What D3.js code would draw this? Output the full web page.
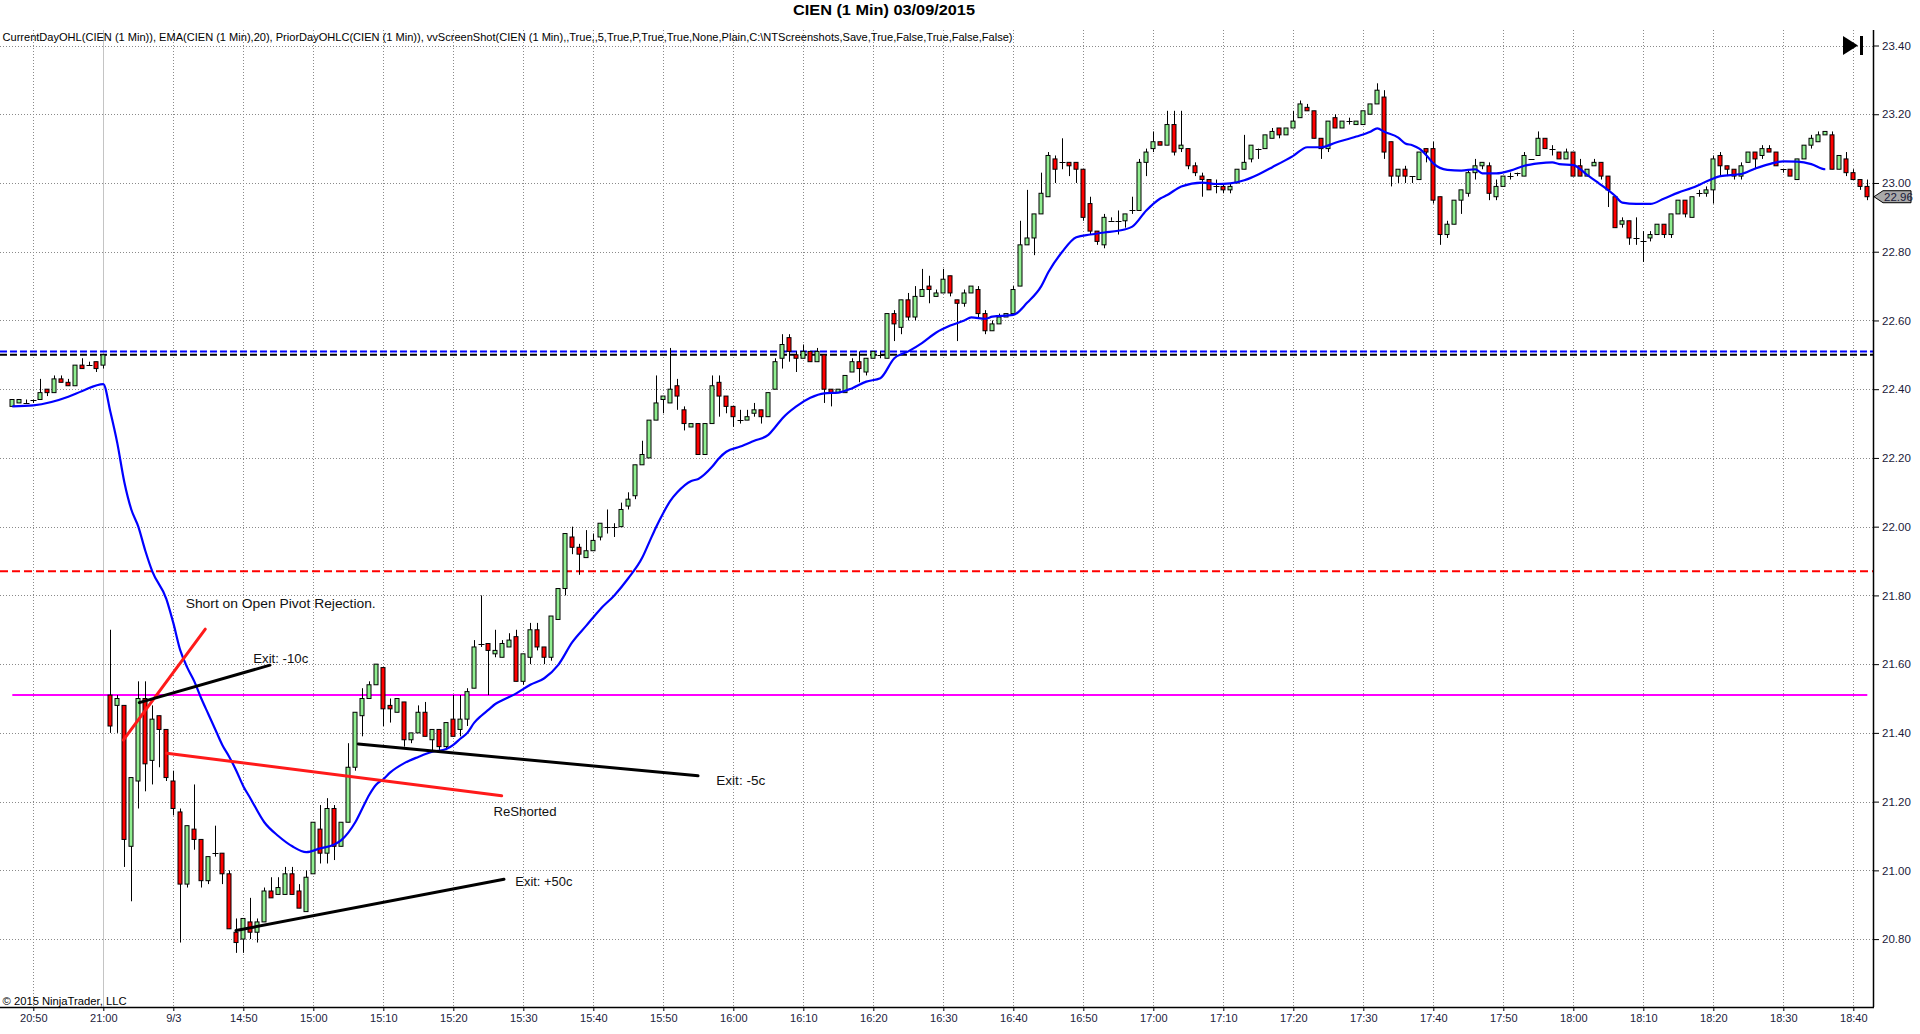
<!DOCTYPE html>
<html><head><meta charset="utf-8">
<script src="https://cdn.jsdelivr.net/npm/d3@7/dist/d3.min.js"></script>
<style>
body{margin:0;background:#fff;}
svg{display:block;}
text{font-family:"Liberation Sans",Arial,sans-serif;}
</style>
</head><body>
<svg id="chart" width="1920" height="1034"></svg>
<script>
// ---------------- DATA ----------------
// bars: 14 prior-day bars (20:47-21:00, 9/2) then 252 bars of 9/3 (14:31-18:42)
const openP = [22.35,22.36,22.36,22.37,22.37,22.40,22.39,22.43,22.42,22.41,22.47,22.47,22.48,22.47,
21.51,21.48,21.48,21.07,21.26,21.50,21.32,21.45,21.41,21.26,
21.17,20.96,21.12,21.09,20.97,21.05,21.05,20.99,20.82,20.80,
20.85,20.82,20.85,20.94,20.93,20.93,20.99,20.94,20.88,20.99,
21.12,21.05,21.18,21.07,21.14,21.30,21.45,21.50,21.54,21.59,
21.48,21.46,21.49,21.38,21.40,21.46,21.38,21.41,21.36,21.44,
21.41,21.44,21.53,21.66,21.66,21.63,21.62,21.65,21.68,21.55,
21.62,21.70,21.65,21.62,21.73,21.82,21.97,21.94,21.91,21.93,
21.97,22.00,22.00,22.00,22.06,22.09,22.18,22.20,22.31,22.37,
22.36,22.41,22.34,22.29,22.30,22.21,22.30,22.42,22.38,22.35,
22.31,22.31,22.33,22.34,22.32,22.40,22.49,22.55,22.50,22.49,
22.51,22.48,22.50,22.40,22.39,22.39,22.45,22.48,22.45,22.49,
22.50,22.49,22.62,22.58,22.66,22.61,22.67,22.70,22.67,22.68,
22.73,22.66,22.65,22.68,22.69,22.62,22.57,22.59,22.61,22.62,
22.70,22.82,22.84,22.91,22.96,23.07,23.06,23.06,23.06,23.04,
22.94,22.86,22.82,22.89,22.89,22.89,22.92,22.92,23.06,23.10,
23.12,23.11,23.17,23.10,23.10,23.05,23.02,23.01,22.99,22.99,
22.98,23.00,23.04,23.07,23.10,23.10,23.13,23.16,23.14,23.16,
23.19,23.22,23.21,23.13,23.10,23.19,23.16,23.18,23.17,23.17,
23.20,23.23,23.25,23.12,23.02,23.04,23.02,23.01,23.10,23.10,
22.96,22.85,22.88,22.95,22.97,23.03,23.05,23.05,22.96,22.99,
23.02,23.03,23.02,23.07,23.08,23.13,23.10,23.09,23.07,23.09,
23.05,23.02,23.05,23.06,23.02,22.96,22.88,22.89,22.84,22.83,
22.84,22.85,22.88,22.85,22.91,22.95,22.90,22.97,22.97,22.98,
23.08,23.05,23.04,23.02,23.06,23.09,23.08,23.10,23.09,23.04,
23.04,23.01,23.07,23.11,23.12,23.14,23.14,23.04,23.07,23.03,
23.01,22.99];
const highP = [22.37,22.37,22.37,22.37,22.43,22.40,22.44,22.44,22.43,22.47,22.49,22.48,22.48,22.50,
21.70,21.51,21.48,21.27,21.55,21.55,21.48,21.45,21.41,21.29,
21.18,21.13,21.25,21.09,21.04,21.13,21.05,21.00,20.86,20.86,
20.92,20.86,20.95,20.98,20.98,21.01,21.01,20.96,21.00,21.14,
21.19,21.21,21.19,21.14,21.37,21.46,21.53,21.55,21.60,21.59,
21.50,21.50,21.49,21.40,21.48,21.49,21.41,21.41,21.43,21.51,
21.51,21.53,21.67,21.80,21.66,21.70,21.67,21.69,21.70,21.63,
21.72,21.72,21.65,21.74,21.82,21.98,22.00,21.95,21.99,21.98,
22.01,22.05,22.01,22.07,22.10,22.18,22.25,22.31,22.44,22.38,
22.52,22.43,22.35,22.30,22.30,22.30,22.44,22.44,22.38,22.35,
22.34,22.34,22.36,22.34,22.39,22.49,22.56,22.56,22.51,22.53,
22.51,22.52,22.50,22.40,22.40,22.44,22.49,22.51,22.49,22.51,
22.51,22.62,22.63,22.66,22.68,22.70,22.75,22.73,22.69,22.75,
22.73,22.66,22.69,22.70,22.70,22.63,22.60,22.62,22.62,22.70,
22.89,22.98,22.91,23.03,23.09,23.08,23.13,23.06,23.06,23.04,
22.96,22.86,22.91,22.90,22.92,22.91,22.96,23.07,23.10,23.15,
23.12,23.21,23.21,23.21,23.10,23.06,23.03,23.01,23.01,23.00,
23.00,23.04,23.14,23.11,23.10,23.14,23.16,23.16,23.16,23.21,
23.24,23.23,23.21,23.13,23.18,23.20,23.18,23.19,23.18,23.21,
23.23,23.29,23.27,23.12,23.04,23.05,23.02,23.09,23.10,23.12,
22.96,22.89,22.95,22.98,23.04,23.07,23.06,23.06,23.01,23.02,
23.03,23.03,23.09,23.07,23.15,23.13,23.11,23.09,23.10,23.09,
23.07,23.04,23.07,23.06,23.02,22.96,22.90,22.89,22.90,22.86,
22.86,22.88,22.88,22.91,22.95,22.95,22.96,22.98,22.99,23.08,
23.09,23.05,23.04,23.06,23.09,23.09,23.11,23.11,23.09,23.04,
23.04,23.07,23.11,23.14,23.15,23.15,23.15,23.08,23.09,23.04,
23.01,23.01];
const lowP = [22.35,22.36,22.36,22.36,22.37,22.38,22.39,22.42,22.41,22.41,22.46,22.47,22.45,22.46,
21.40,21.40,21.01,20.91,21.18,21.23,21.25,21.30,21.26,21.16,
20.79,20.95,21.06,20.95,20.96,21.04,20.96,20.83,20.76,20.76,
20.80,20.79,20.85,20.92,20.93,20.93,20.93,20.89,20.88,20.99,
21.02,21.02,21.03,21.07,21.14,21.29,21.39,21.50,21.54,21.42,
21.43,21.46,21.36,21.37,21.40,21.39,21.35,21.35,21.35,21.39,
21.39,21.42,21.53,21.65,21.51,21.62,21.62,21.65,21.55,21.54,
21.60,21.64,21.60,21.61,21.73,21.80,21.92,21.86,21.91,21.93,
21.96,21.98,21.97,22.00,22.05,22.08,22.18,22.20,22.31,22.33,
22.36,22.34,22.28,22.29,22.21,22.21,22.30,22.32,22.33,22.29,
22.30,22.31,22.32,22.30,22.32,22.40,22.46,22.48,22.45,22.49,
22.48,22.48,22.36,22.35,22.39,22.39,22.45,22.42,22.44,22.49,
22.49,22.49,22.54,22.56,22.60,22.60,22.67,22.65,22.67,22.68,
22.67,22.54,22.64,22.68,22.61,22.56,22.57,22.59,22.61,22.62,
22.70,22.82,22.79,22.91,22.96,23.00,23.04,23.02,23.00,22.89,
22.85,22.82,22.81,22.89,22.85,22.87,22.91,22.92,23.02,23.09,
23.11,23.11,23.08,23.09,23.04,23.02,22.96,22.98,22.97,22.97,
22.97,23.00,23.04,23.06,23.07,23.10,23.13,23.13,23.14,23.16,
23.19,23.21,23.13,23.07,23.09,23.16,23.16,23.17,23.17,23.17,
23.20,23.23,23.07,22.99,23.00,23.00,23.00,23.01,23.06,22.94,
22.82,22.84,22.88,22.91,22.96,23.01,23.04,22.95,22.95,22.99,
23.01,23.02,23.02,23.07,23.08,23.10,23.08,23.07,23.07,23.02,
23.02,23.02,23.05,23.01,22.93,22.87,22.87,22.82,22.82,22.77,
22.83,22.85,22.84,22.84,22.91,22.90,22.90,22.96,22.96,22.94,
23.02,23.02,23.01,23.01,23.06,23.04,23.07,23.09,23.05,23.03,
23.02,23.01,23.07,23.10,23.12,23.14,23.04,23.04,23.02,23.01,
22.98,22.95];
const closeP = [22.37,22.37,22.36,22.37,22.39,22.39,22.43,22.42,22.41,22.47,22.46,22.47,22.46,22.50,
21.42,21.50,21.09,21.27,21.50,21.31,21.44,21.41,21.27,21.18,
20.96,21.13,21.09,20.97,21.04,21.05,20.99,20.83,20.79,20.86,
20.82,20.85,20.94,20.92,20.95,20.99,20.93,20.89,20.98,21.14,
21.05,21.18,21.07,21.14,21.30,21.46,21.50,21.54,21.60,21.47,
21.47,21.50,21.38,21.40,21.46,21.39,21.41,21.36,21.43,21.39,
21.44,21.52,21.65,21.66,21.64,21.64,21.66,21.67,21.55,21.63,
21.70,21.65,21.62,21.74,21.82,21.98,21.94,21.92,21.93,21.96,
22.01,22.00,22.00,22.05,22.08,22.18,22.21,22.31,22.36,22.38,
22.40,22.38,22.30,22.30,22.21,22.30,22.41,22.38,22.35,22.32,
22.31,22.32,22.34,22.32,22.39,22.48,22.53,22.51,22.49,22.51,
22.48,22.51,22.40,22.39,22.40,22.44,22.48,22.46,22.49,22.51,
22.50,22.62,22.59,22.66,22.61,22.67,22.69,22.69,22.68,22.72,
22.68,22.65,22.68,22.70,22.62,22.57,22.59,22.61,22.62,22.69,
22.82,22.84,22.91,22.97,23.08,23.04,23.06,23.05,23.04,22.90,
22.86,22.83,22.90,22.89,22.89,22.91,22.92,23.06,23.09,23.12,
23.11,23.17,23.09,23.11,23.05,23.03,23.01,22.98,22.99,22.98,
22.99,23.04,23.06,23.11,23.10,23.14,23.15,23.14,23.16,23.18,
23.23,23.21,23.13,23.10,23.18,23.16,23.18,23.18,23.18,23.21,
23.23,23.27,23.09,23.02,23.04,23.02,23.02,23.09,23.09,22.95,
22.85,22.88,22.95,22.98,23.03,23.05,23.06,22.97,22.99,23.02,
23.02,23.03,23.08,23.07,23.13,23.10,23.10,23.07,23.09,23.02,
23.02,23.04,23.06,23.02,22.98,22.87,22.89,22.84,22.84,22.83,
22.85,22.88,22.85,22.91,22.95,22.91,22.96,22.97,22.98,23.07,
23.05,23.04,23.02,23.05,23.09,23.07,23.10,23.09,23.05,23.04,
23.02,23.07,23.11,23.13,23.14,23.15,23.04,23.08,23.03,23.01,
22.99,22.96];

// EMA(20) at bar indices
const emaBar = [0,3,8,10,13,
14,15,16,17,18,19,20,22,23,24,25,26,27,28,29,30,31,32,33,34,36,38,40,42,44,46,47,48,49,50,
51,52,53,54,56,58,60,62,63,64,65,66,67,68,69,70,72,74,76,78,80,82,84,86,88,90,91,92,93,94,95,97,98,
100,101,102,104,106,108,109,110,112,114,116,118,120,122,124,126,128,130,132,134,136,137,139,140,143,
145,147,148,150,152,154,156,158,160,162,164,165,167,170,172,174,176,178,180,183,185,187,189,192,194,
195,196,198,199,200,201,202,203,205,207,209,210,212,214,216,218,220,221,223,225,227,229,230,232,234,
236,238,240,242,244,247,249,251,253,255,257,259,261,263,265];
const emaVal = [22.350,22.353,22.378,22.395,22.415,
22.335,22.243,22.130,22.050,22.000,21.930,21.870,21.790,21.720,21.640,21.590,21.550,21.500,21.455,21.410,21.365,21.330,21.290,21.245,21.210,21.140,21.100,21.070,21.053,21.064,21.075,21.088,21.110,21.140,21.180,
21.220,21.250,21.265,21.285,21.312,21.330,21.345,21.353,21.365,21.383,21.400,21.430,21.450,21.467,21.484,21.495,21.515,21.540,21.559,21.598,21.664,21.712,21.760,21.800,21.850,21.910,21.955,22.000,22.040,22.075,22.100,22.133,22.139,
22.175,22.200,22.218,22.233,22.250,22.267,22.290,22.315,22.350,22.375,22.388,22.390,22.403,22.422,22.432,22.490,22.510,22.535,22.565,22.585,22.600,22.609,22.605,22.611,22.616,22.652,22.700,22.740,22.800,22.842,22.850,22.856,22.861,
22.873,22.920,22.955,22.965,22.990,23.001,22.997,22.999,23.008,23.025,23.046,23.079,23.104,23.104,23.117,23.135,23.149,23.159,23.149,23.132,23.115,23.110,23.100,23.081,23.057,23.038,
23.036,23.040,23.028,23.028,23.036,23.050,23.057,23.060,23.055,23.052,23.023,22.994,22.962,22.943,22.939,22.939,22.955,22.972,22.986,23.004,
23.020,23.026,23.042,23.055,23.063,23.062,23.055,23.040];

// horizontal reference levels
const levelPriorHigh = 22.51;   // blue dashed
const levelPriorClose = 22.50;  // black dashed
const levelRed = 21.87;         // red dashed
const levelOpen = 21.51;        // magenta solid
const lastPrice = 22.96;

// time axis labels (every 10 bars)
const tickLabels = ["20:50","21:00","9/3","14:50","15:00","15:10","15:20","15:30","15:40","15:50",
"16:00","16:10","16:20","16:30","16:40","16:50","17:00","17:10","17:20","17:30","17:40","17:50",
"18:00","18:10","18:20","18:30","18:40"];
const tickBars = [3,13,23,33,43,53,63,73,83,93,103,113,123,133,143,153,163,173,183,193,203,213,223,233,243,253,263];
const sessionBreakBar = 13;

const priceTicks = [20.80,21.00,21.20,21.40,21.60,21.80,22.00,22.20,22.40,22.60,22.80,23.00,23.20,23.40];

// hand-drawn annotation lines (bar index, price)
const drawLines = [
  {b1:15.86,p1:21.379,b2:27.57,p2:21.702,color:"#ff1a1a"},
  {b1:18.14,p1:21.488,b2:36.81,p2:21.597,color:"#000000"},
  {b1:22.06,p1:21.341,b2:69.91,p2:21.217,color:"#ff1a1a"},
  {b1:49.43,p1:21.368,b2:97.96,p2:21.275,color:"#000000"},
  {b1:31.96,p1:20.825,b2:70.24,p2:20.974,color:"#000000"}
];
const notes = [
  {b:24.77,p:21.764,t:"Short on Open Pivot Rejection.",w:190},
  {b:34.43,p:21.603,t:"Exit: -10c",w:55},
  {b:68.74,p:21.158,t:"ReShorted",w:63},
  {b:100.57,p:21.248,t:"Exit: -5c",w:49},
  {b:71.87,p:20.955,t:"Exit: +50c",w:57}
];

const titleText = "CIEN (1 Min)  03/09/2015";
const indicatorText = "CurrentDayOHL(CIEN (1 Min)), EMA(CIEN (1 Min),20), PriorDayOHLC(CIEN (1 Min)), vvScreenShot(CIEN (1 Min),,True,,5,True,P,True,True,None,Plain,C:\\NTScreenshots,Save,True,False,True,False,False)";
const copyrightText = "\u00A9 2015 NinjaTrader, LLC";

// ---------------- LAYOUT ----------------
const svg = d3.select("#chart");
const plotTop = 30, axisY = 1007, axisX = 1873;
const nBars = openP.length;
const x = d3.scaleLinear().domain([0, nBars - 1]).range([12.3, 1867.3]);
const y = d3.scaleLinear().domain([20.80, 23.40]).range([939.1, 45.5]);
const axisColor = "#1a1a3a";

svg.append("rect").attr("width",1920).attr("height",1034).attr("fill","#fff");

// grid
const grid = svg.append("g");
grid.selectAll("line.hg").data(priceTicks).join("line")
  .attr("x1",0).attr("x2",axisX).attr("y1",d=>Math.round(y(d))+0.5).attr("y2",d=>Math.round(y(d))+0.5)
  .attr("stroke","#8a8a8a").attr("stroke-width",1).attr("stroke-dasharray","1,2");
grid.selectAll("line.vg").data(tickBars).join("line")
  .attr("x1",d=>Math.round(x(d))+0.5).attr("x2",d=>Math.round(x(d))+0.5)
  .attr("y1",plotTop).attr("y2",axisY)
  .attr("stroke",d=>d===sessionBreakBar?"#c4c4c4":"#8a8a8a")
  .attr("stroke-width",1)
  .attr("stroke-dasharray",d=>d===sessionBreakBar?null:"1,2");

// reference levels
svg.append("line").attr("x1",0).attr("x2",axisX).attr("y1",y(levelPriorHigh)).attr("y2",y(levelPriorHigh))
  .attr("stroke","#0000ff").attr("stroke-width",2).attr("stroke-dasharray","7,3");
svg.append("line").attr("x1",0).attr("x2",axisX).attr("y1",y(levelPriorClose)).attr("y2",y(levelPriorClose))
  .attr("stroke","#000000").attr("stroke-width",2).attr("stroke-dasharray","7,3");
svg.append("line").attr("x1",0).attr("x2",axisX).attr("y1",y(levelRed)).attr("y2",y(levelRed))
  .attr("stroke","#ff0000").attr("stroke-width",2).attr("stroke-dasharray","8,4");
svg.append("line").attr("x1",x(0)).attr("x2",x(nBars-1)).attr("y1",y(levelOpen)).attr("y2",y(levelOpen))
  .attr("stroke","#ff00ff").attr("stroke-width",2);

// candles
const bars = d3.range(nBars);
const cg = svg.append("g");
cg.selectAll("line.wick").data(bars).join("line")
  .attr("x1",i=>Math.round(x(i))+0.5).attr("x2",i=>Math.round(x(i))+0.5)
  .attr("y1",i=>y(highP[i])).attr("y2",i=>y(lowP[i]))
  .attr("stroke","#000").attr("stroke-width",1);
const bw = 5;
cg.selectAll("rect.body").data(bars.filter(i=>Math.abs(openP[i]-closeP[i])>0.0001)).join("rect")
  .attr("x",i=>Math.round(x(i))-2+0.5 - 0.5)
  .attr("y",i=>y(Math.max(openP[i],closeP[i])))
  .attr("width",bw-1)
  .attr("height",i=>Math.max(1,Math.abs(y(openP[i])-y(closeP[i]))))
  .attr("fill",i=>closeP[i]>openP[i]?"#90ee90":"#ff0000")
  .attr("stroke","#000").attr("stroke-width",1);
cg.selectAll("line.doji").data(bars.filter(i=>Math.abs(openP[i]-closeP[i])<=0.0001)).join("line")
  .attr("x1",i=>Math.round(x(i))-2.5).attr("x2",i=>Math.round(x(i))+3.5)
  .attr("y1",i=>Math.round(y(openP[i]))+0.5).attr("y2",i=>Math.round(y(openP[i]))+0.5)
  .attr("stroke","#000").attr("stroke-width",1);

// EMA
const emaPts = emaBar.map((b,i)=>[b,emaVal[i]]);
svg.append("path").datum(emaPts)
  .attr("d",d3.line().x(d=>x(d[0])).y(d=>y(d[1])).curve(d3.curveMonotoneX))
  .attr("fill","none").attr("stroke","#0000ff").attr("stroke-width",2.2);

// annotations
svg.selectAll("line.ann").data(drawLines).join("line")
  .attr("x1",d=>x(d.b1)).attr("y1",d=>y(d.p1)).attr("x2",d=>x(d.b2)).attr("y2",d=>y(d.p2))
  .attr("stroke",d=>d.color).attr("stroke-width",3).attr("stroke-linecap","round");
svg.selectAll("text.note").data(notes).join("text")
  .attr("x",d=>x(d.b)).attr("y",d=>y(d.p))
  .attr("font-family","'Open Sans',sans-serif").attr("font-size",12.5)
  .attr("fill","#111")
  .attr("textLength",d=>d.w).attr("lengthAdjust","spacingAndGlyphs")
  .text(d=>d.t);

// right price axis
const yAxis = d3.axisRight(y).tickValues(priceTicks).tickFormat(d3.format(".2f")).tickSize(6).tickPadding(3);
const ya = svg.append("g").attr("transform",`translate(${axisX},0)`).call(yAxis);
ya.select(".domain").remove();
ya.selectAll("line").attr("stroke","#000");
ya.selectAll("text").attr("font-size",11.5).attr("fill",axisColor).attr("font-family","'Liberation Sans',Arial,sans-serif");
svg.append("line").attr("x1",axisX+0.5).attr("x2",axisX+0.5).attr("y1",plotTop).attr("y2",axisY)
  .attr("stroke","#000").attr("stroke-width",1.5);

// bottom time axis
const xAxis = d3.axisBottom(x).tickValues(tickBars).tickFormat((d,i)=>tickLabels[i]).tickSize(4).tickPadding(3);
const xa = svg.append("g").attr("transform",`translate(0,${axisY})`).call(xAxis);
xa.select(".domain").remove();
xa.selectAll("line").attr("stroke","#000");
xa.selectAll("text").attr("font-size",11).attr("fill",axisColor).attr("font-family","'Liberation Sans',Arial,sans-serif");
svg.append("line").attr("x1",0).attr("x2",axisX+1).attr("y1",axisY+0.5).attr("y2",axisY+0.5)
  .attr("stroke","#000").attr("stroke-width",1.5);

// last price tag
const ly = y(lastPrice);
svg.append("path")
  .attr("d",`M${axisX+1},${ly} L${axisX+10},${ly-6} L${axisX+38},${ly-6} L${axisX+38},${ly+6} L${axisX+10},${ly+6} Z`)
  .attr("fill","#a9a9a9").attr("stroke","#000").attr("stroke-width",1);
svg.append("text").attr("x",axisX+11).attr("y",ly+4.2).attr("font-size",11.5).attr("fill",axisColor)
  .text(d3.format(".2f")(lastPrice));

// play-to-end icon
svg.append("path").attr("d","M1843,36 L1858,45.5 L1843,55 Z").attr("fill","#000");
svg.append("rect").attr("x",1860).attr("y",36).attr("width",3).attr("height",19).attr("fill","#000");

// texts
svg.append("text").attr("x",884).attr("y",15).attr("text-anchor","middle")
  .attr("font-size",14).attr("font-weight","bold").attr("fill","#000")
  .attr("textLength",182).attr("lengthAdjust","spacingAndGlyphs").text(titleText);
svg.append("text").attr("x",2.5).attr("y",40.5)
  .attr("font-size",11).attr("fill","#000")
  .attr("textLength",1010).attr("lengthAdjust","spacingAndGlyphs").text(indicatorText);
svg.append("text").attr("x",2.5).attr("y",1004.5)
  .attr("font-size",11).attr("fill","#000")
  .attr("textLength",124).attr("lengthAdjust","spacingAndGlyphs").text(copyrightText);
</script>
</body></html>
